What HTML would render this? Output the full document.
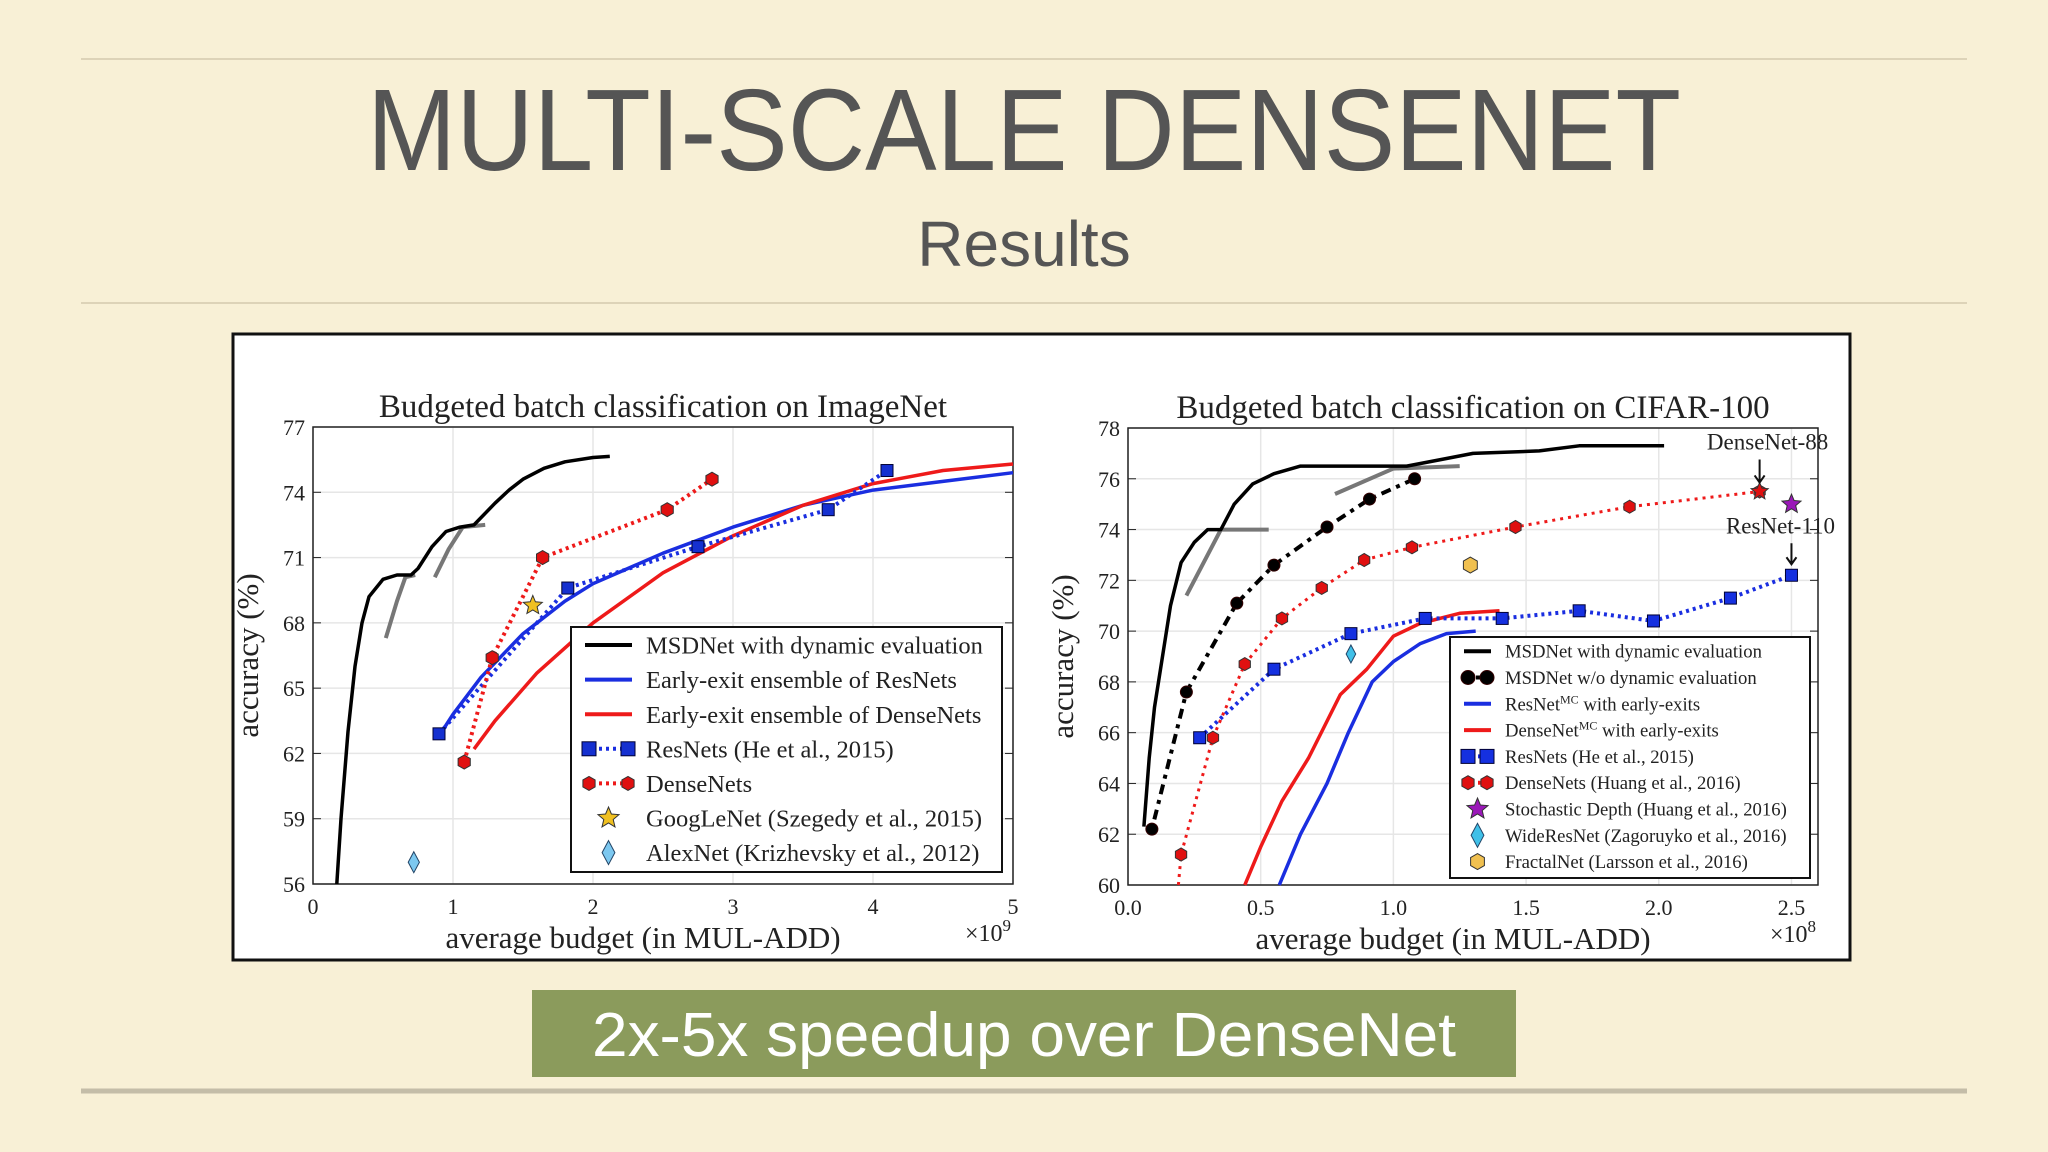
<!DOCTYPE html>
<html><head><meta charset="utf-8"><style>
html,body{margin:0;padding:0;background:#f8f0d6;}
svg{display:block}
text{font-family:"Liberation Serif",serif;}
</style></head><body>
<svg id="s" width="2048" height="1152" viewBox="0 0 2048 1152">
<rect x="0" y="0" width="2048" height="1152" fill="#f8f0d6"/>
<line x1="81" y1="59" x2="1967" y2="59" stroke="#ddd3b8" stroke-width="2"/>
<text x="1024" y="170" text-anchor="middle" font-size="116" fill="#555" textLength="1314" lengthAdjust="spacingAndGlyphs" style="font-family:'Liberation Sans',sans-serif">MULTI-SCALE DENSENET</text>
<text x="1024" y="266" text-anchor="middle" font-size="64" fill="#555" style="font-family:'Liberation Sans',sans-serif">Results</text>
<line x1="81" y1="303" x2="1967" y2="303" stroke="#ddd3b8" stroke-width="2"/>
<rect x="233" y="334" width="1617" height="626" fill="#fff" stroke="#111" stroke-width="3"/>
<rect x="532" y="990" width="984" height="87" fill="#8b9b5c"/>
<text x="1024" y="1056" text-anchor="middle" font-size="62" fill="#fff" textLength="864" lengthAdjust="spacingAndGlyphs" style="font-family:'Liberation Sans',sans-serif">2x-5x speedup over DenseNet</text>
<line x1="81" y1="1091" x2="1967" y2="1091" stroke="#c4bda8" stroke-width="5"/>
<g id="gL"></g>
<g id="gR"></g>
</svg>
<script>
// ImageNet data (x in 1e9 MUL-ADD, y accuracy %)
const L_msdX=[0.17,0.2,0.25,0.3,0.35,0.4,0.5,0.6,0.7,0.75,0.85,0.95,1.05,1.15,1.3,1.4,1.5,1.65,1.8,2.0,2.12];
const L_msdY=[56,59,63,66,68,69.2,70,70.2,70.2,70.5,71.5,72.2,72.4,72.5,73.5,74.1,74.6,75.1,75.4,75.6,75.65];
const L_gray1X=[0.52,0.6,0.66,0.73], L_gray1Y=[67.3,69,70.1,70.2];
const L_gray2X=[0.87,0.97,1.07,1.23], L_gray2Y=[70.1,71.4,72.4,72.5];
const L_resEnsX=[0.92,1.0,1.2,1.5,1.8,2.0,2.5,3.0,3.5,4.0,4.5,5.0];
const L_resEnsY=[63,63.8,65.5,67.5,69,69.8,71.2,72.4,73.4,74.1,74.5,74.9];
const L_denEnsX=[1.15,1.3,1.6,2.0,2.5,3.0,3.5,4.0,4.5,5.0];
const L_denEnsY=[62.2,63.5,65.7,68,70.3,72,73.4,74.4,75,75.3];
const L_resX=[0.9,1.82,2.75,3.68,4.1], L_resY=[62.9,69.6,71.5,73.2,75];
const L_denX=[1.08,1.28,1.64,2.53,2.85], L_denY=[61.6,66.4,71,73.2,74.6];
const L_googX=[1.57], L_googY=[68.8];
const L_alexX=[0.72], L_alexY=[57];
const L_xTicks=[0,1,2,3,4,5], L_yTicks=[56,59,62,65,68,71,74,77];
// CIFAR-100 data (x in 1e8)
const R_msdX=[0.06,0.08,0.1,0.13,0.16,0.2,0.25,0.3,0.35,0.4,0.47,0.55,0.65,0.8,1.05,1.2,1.3,1.55,1.7,2.02];
const R_msdY=[62.3,65,67,69,71,72.7,73.5,74,74,75,75.8,76.2,76.5,76.5,76.5,76.8,77,77.1,77.3,77.3];
const R_gray1X=[0.22,0.35,0.53], R_gray1Y=[71.4,74,74];
const R_gray2X=[0.78,1.0,1.25], R_gray2Y=[75.4,76.4,76.5];
const R_msdNoX=[0.09,0.22,0.41,0.55,0.75,0.91,1.08], R_msdNoY=[62.2,67.6,71.1,72.6,74.1,75.2,76];
const R_resMcX=[0.57,0.65,0.75,0.83,0.92,1.0,1.1,1.2,1.31], R_resMcY=[60,62,64,66,68,68.8,69.5,69.9,70];
const R_denMcX=[0.44,0.5,0.58,0.68,0.8,0.9,1.0,1.1,1.25,1.4], R_denMcY=[60,61.5,63.3,65,67.5,68.5,69.8,70.3,70.7,70.8];
const R_resX=[0.27,0.55,0.84,1.12,1.41,1.7,1.98,2.27,2.5], R_resY=[65.8,68.5,69.9,70.5,70.5,70.8,70.4,71.3,72.2];
const R_denX=[0.2,0.32,0.44,0.58,0.73,0.89,1.07,1.46,1.89,2.38], R_denY=[61.2,65.8,68.7,70.5,71.7,72.8,73.3,74.1,74.9,75.5];
const R_stochX=[2.5], R_stochY=[75];
const R_wideX=[0.84], R_wideY=[69.1];
const R_fracX=[1.29], R_fracY=[72.6];
const R_xTicks=[0,0.5,1,1.5,2,2.5], R_yTicks=[60,62,64,66,68,70,72,74,76,78];

const NS="http://www.w3.org/2000/svg";
function mk(p,t,a){const e=document.createElementNS(NS,t);for(const k in a)e.setAttribute(k,a[k]);p.appendChild(e);return e;}
function axes(x0,x1,xmin,xmax,y0,y1,ymin,ymax){
  return {sx:v=>x0+(v-xmin)/(xmax-xmin)*(x1-x0), sy:v=>y0-(v-ymin)/(ymax-ymin)*(y0-y1)};
}
function line(g,A,X,Y,col,w,dash,name){
  const d=X.map((x,i)=>(i?'L':'M')+A.sx(x).toFixed(1)+' '+A.sy(Y[i]).toFixed(1)).join('');
  const e=mk(g,'path',{d:d,fill:'none',stroke:col,'stroke-width':w,'stroke-linejoin':'round'});
  if(dash)e.setAttribute('stroke-dasharray',dash);
  
  
}
function marker(g,cx,cy,type,fill,size){
  let e;
  if(type==='sq')e=mk(g,'rect',{x:cx-size,y:cy-size,width:2*size,height:2*size,fill:fill,stroke:'#003'});
  else if(type==='circ')e=mk(g,'circle',{cx:cx,cy:cy,r:size,fill:fill,stroke:'#300'});
  else if(type==='hex'){let p=[];for(let k=0;k<6;k++){const a=Math.PI/3*k+Math.PI/6;p.push((cx+size*Math.cos(a)).toFixed(1)+','+(cy+size*Math.sin(a)).toFixed(1));}e=mk(g,'polygon',{points:p.join(' '),fill:fill,stroke:'#333'});}
  else if(type==='dia')e=mk(g,'polygon',{points:`${cx},${cy-size*1.5} ${cx+size*0.8},${cy} ${cx},${cy+size*1.5} ${cx-size*0.8},${cy}`,fill:fill,stroke:'#246'});
  else {let p=[];for(let k=0;k<10;k++){const r=k%2?size*0.45:size;const a=-Math.PI/2+k*Math.PI/5;p.push((cx+r*Math.cos(a)).toFixed(1)+','+(cy+r*Math.sin(a)).toFixed(1));}e=mk(g,'polygon',{points:p.join(' '),fill:fill,stroke:'#333'});}
  return e;
}
function pts(g,A,X,Y,type,fill,size,name){
  X.forEach((x,i)=>{const e=marker(g,A.sx(x),A.sy(Y[i]),type,fill,size);
    
    });
}
function frame(g,x0,x1,y0,y1,A,xt,yt,xfmt,title,mult,fs){
  mk(g,'rect',{x:x0,y:y1,width:x1-x0,height:y0-y1,fill:'#fff'});
  xt.forEach(v=>{const x=A.sx(v);
    const gl=mk(g,'line',{x1:x,x2:x,y1:y1,y2:y0,stroke:'#e6e6e6','stroke-width':1.5});
    
    const t=mk(g,'text',{x:x,y:y0+30,'text-anchor':'middle','font-size':fs,fill:'#222'});t.textContent=xfmt(v);
    });
  yt.forEach(v=>{const y=A.sy(v);
    const gl=mk(g,'line',{x1:x0,x2:x1,y1:y,y2:y,stroke:'#e6e6e6','stroke-width':1.5});
    
    mk(g,'line',{x1:x0,x2:x0+8,y1:y,y2:y,stroke:'#222'});mk(g,'line',{x1:x1-8,x2:x1,y1:y,y2:y,stroke:'#222'});
    const t=mk(g,'text',{x:x0-8,y:y+8,'text-anchor':'end','font-size':fs,fill:'#222'});t.textContent=v;
    });
  const b=mk(g,'rect',{x:x0,y:y1,width:x1-x0,height:y0-y1,fill:'none',stroke:'#222','stroke-width':1.5});
  
  const tt=mk(g,'text',{x:(x0+x1)/2,y:y1-10,'text-anchor':'middle','font-size':33,fill:'#222'});tt.textContent=title;
  
  const xl=mk(g,'text',{x:(x0+x1)/2-20,y:y0+64,'text-anchor':'middle','font-size':31,fill:'#222'});xl.textContent='average budget (in MUL-ADD)';
  
  const yl=mk(g,'text',{x:0,y:0,'text-anchor':'middle','font-size':31,fill:'#222',transform:`translate(${x0-55},${(y0+y1)/2}) rotate(-90)`});yl.textContent='accuracy (%)';
  
  const m=mk(g,'text',{x:x1-48,y:y0+57,'font-size':24,fill:'#222'});m.innerHTML='×10<tspan dy="-10" font-size="17">'+mult+'</tspan>';
  
}
function legend(g,x,y,w,h,items,fs,rowH,textX,off){
  const r=mk(g,'rect',{x:x,y:y,width:w,height:h,fill:'#fff',stroke:'#111','stroke-width':2});
  
  items.forEach((it,i)=>{const cy=y+rowH*off+i*rowH;const lg=mk(g,'g',{});
    
    const lx=x+14,lw=textX-28;
    if(it.line)mk(lg,'line',{x1:lx,x2:lx+lw,y1:cy,y2:cy,stroke:it.col,'stroke-width':it.w||4,'stroke-dasharray':it.dash||''});
    if(it.m){if(it.line){marker(lg,lx+4,cy,it.m,it.fill,7);marker(lg,lx+lw-4,cy,it.m,it.fill,7);}else marker(lg,lx+lw/2,cy,it.m,it.fill,it.m==='star'?11:8);}
    const t=mk(lg,'text',{x:x+textX,y:cy+fs*0.35,'font-size':fs,fill:'#222'});t.innerHTML=it.t;});
}
// Left chart
(function(){
  const g=document.getElementById('gL');
  const x0=313,x1=1013,y0=884,y1=427;
  const A=axes(x0,x1,0,5,y0,y1,56,77);
  frame(g,x0,x1,y0,y1,A,L_xTicks,L_yTicks,v=>String(v),'Budgeted batch classification on ImageNet',9,22);
  const c=mk(g,'g',{});
  line(c,A,L_gray1X,L_gray1Y,'#777',4,'','msdnet-gray-segment');
  line(c,A,L_gray2X,L_gray2Y,'#777',4,'','msdnet-gray-segment');
  line(c,A,L_msdX,L_msdY,'#000',3.5,'','msdnet-dynamic-line');
  line(c,A,L_resEnsX,L_resEnsY,'#1a2ee0',3.5,'','resnet-ensemble-line');
  line(c,A,L_denEnsX,L_denEnsY,'#ee1a1a',3.5,'','densenet-ensemble-line');
  line(c,A,L_resX,L_resY,'#1a2ee0',4,'3 4','resnets-line');
  line(c,A,L_denX,L_denY,'#ee1a1a',4,'3 4','densenets-line');
  pts(c,A,L_resX,L_resY,'sq','#1530d0',6,'resnets-point');
  pts(c,A,L_denX,L_denY,'hex','#e01010',7,'densenets-point');
  pts(c,A,L_googX,L_googY,'star','#f0c020',10,'googlenet-point');
  pts(c,A,L_alexX,L_alexY,'dia','#7cc8f0',7,'alexnet-point');
  legend(g,571,627,431,245,[
    {t:'MSDNet with dynamic evaluation',line:1,col:'#000'},
    {t:'Early-exit ensemble of ResNets',line:1,col:'#1a2ee0'},
    {t:'Early-exit ensemble of DenseNets',line:1,col:'#ee1a1a'},
    {t:'ResNets (He et al., 2015)',line:1,col:'#1a2ee0',dash:'3 4',m:'sq',fill:'#1530d0'},
    {t:'DenseNets',line:1,col:'#ee1a1a',dash:'3 4',m:'hex',fill:'#e01010'},
    {t:'GoogLeNet (Szegedy et al., 2015)',m:'star',fill:'#f0c020'},
    {t:'AlexNet (Krizhevsky et al., 2012)',m:'dia',fill:'#7cc8f0'}],24.5,34.6,75,0.52);
})();
// Right chart
(function(){
  const g=document.getElementById('gR');
  const x0=1128,x1=1818,y0=885,y1=428;
  const A=axes(x0,x1,0,2.6,y0,y1,60,78);
  frame(g,x0,x1,y0,y1,A,R_xTicks,R_yTicks,v=>v.toFixed(1),'Budgeted batch classification on CIFAR-100',8,22);
  const c=mk(g,'g',{});
  line(c,A,R_gray1X,R_gray1Y,'#777',4,'','msdnet-gray-segment');
  line(c,A,R_gray2X,R_gray2Y,'#777',4,'','msdnet-gray-segment');
  line(c,A,R_msdX,R_msdY,'#000',3.5,'','msdnet-dynamic-line');
  line(c,A,R_msdNoX,R_msdNoY,'#000',4,'4 6 10 6','msdnet-no-dynamic-line');
  line(c,A,R_resMcX,R_resMcY,'#1a2ee0',3.5,'','resnet-mc-line');
  line(c,A,R_denMcX,R_denMcY,'#ee1a1a',3.5,'','densenet-mc-line');
  line(c,A,R_resX,R_resY,'#1a2ee0',4,'3 4','resnets-line');
  line(c,A,[0.19].concat(R_denX),[60].concat(R_denY),'#ee1a1a',3,'3 5','densenets-line');
  pts(c,A,R_msdNoX,R_msdNoY,'circ','#000',6,'msdnet-no-dynamic-point');
  pts(c,A,R_resX,R_resY,'sq','#1530e0',6,'resnets-point');
  pts(c,A,R_denX,R_denY,'hex','#e01010',6.5,'densenets-point');
  pts(c,A,[R_denX[R_denX.length-1]],[R_denY[R_denY.length-1]],'star','#e01010',9,'densenet-88-star');
  pts(c,A,R_stochX,R_stochY,'star','#9a18b8',10,'stochastic-depth-point');
  pts(c,A,R_wideX,R_wideY,'dia','#40c0e8',6,'wideresnet-point');
  pts(c,A,R_fracX,R_fracY,'hex','#f0c050',8,'fractalnet-point');
  const a1x=A.sx(2.38),a1y=A.sy(75.5),a2x=A.sx(2.5),a2y=A.sy(72.2);
  const an=mk(g,'g',{stroke:'#111','stroke-width':2,fill:'none'});
  mk(an,'path',{d:`M${a1x} ${a1y-32}V${a1y-9}M${a1x-5} ${a1y-16}L${a1x} ${a1y-9}L${a1x+5} ${a1y-16}`});
  mk(an,'path',{d:`M${a2x} ${a2y-32}V${a2y-11}M${a2x-5} ${a2y-18}L${a2x} ${a2y-11}L${a2x+5} ${a2y-18}`});
  const t1=mk(g,'text',{x:a1x+8,y:a1y-42,'text-anchor':'middle','font-size':23,fill:'#222'});t1.textContent='DenseNet-88';
  
  const t2=mk(g,'text',{x:a2x-11,y:a2y-42,'text-anchor':'middle','font-size':23,fill:'#222'});t2.textContent='ResNet-110';
  
  legend(g,1450,637,360,241,[
    {t:'MSDNet with dynamic evaluation',line:1,col:'#000'},
    {t:'MSDNet w/o dynamic evaluation',line:1,col:'#000',dash:'4 8',m:'circ',fill:'#000'},
    {t:'ResNet<tspan dy="-7" font-size="12">MC</tspan><tspan dy="7"> with early-exits</tspan>',line:1,col:'#1a2ee0'},
    {t:'DenseNet<tspan dy="-7" font-size="12">MC</tspan><tspan dy="7"> with early-exits</tspan>',line:1,col:'#ee1a1a'},
    {t:'ResNets (He et al., 2015)',line:1,col:'#1a2ee0',dash:'3 4',m:'sq',fill:'#1530e0'},
    {t:'DenseNets (Huang et al., 2016)',line:1,col:'#ee1a1a',dash:'3 4',m:'hex',fill:'#e01010'},
    {t:'Stochastic Depth (Huang et al., 2016)',m:'star',fill:'#9a18b8'},
    {t:'WideResNet (Zagoruyko et al., 2016)',m:'dia',fill:'#40c0e8'},
    {t:'FractalNet (Larsson et al., 2016)',m:'hex',fill:'#f0c050'}],18.7,26.3,55,0.54);
})();
</script>
</body></html>
